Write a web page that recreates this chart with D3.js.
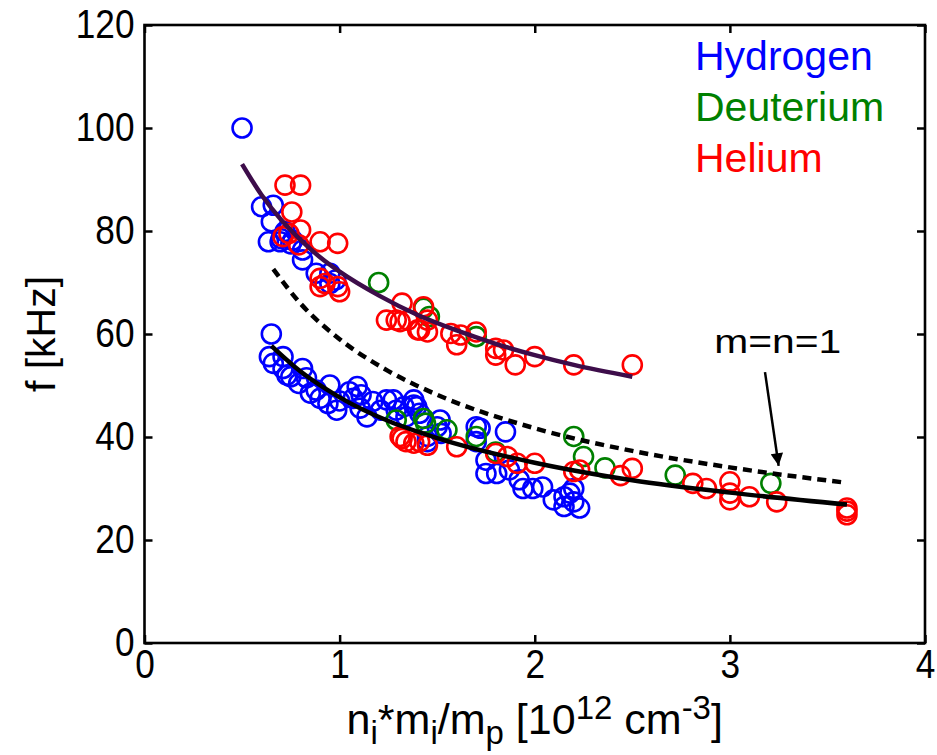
<!DOCTYPE html>
<html><head><meta charset="utf-8">
<script src="https://cdn.jsdelivr.net/npm/d3@7"></script>
<style>body{margin:0;background:#fff} text{font-family:Arial,"Liberation Sans",sans-serif}</style>
</head><body><svg id="c" width="937" height="755"></svg>
<script>
// ---------- data ----------
const xTicks = [0, 1, 2, 3, 4];
const yTicks = [0, 20, 40, 60, 80, 100, 120];
const legendNames = ["Hydrogen", "Deuterium", "Helium"];
const annotationText = "m=n=1";
const annotationAt = [2.92, 56.3];
const arrowFrom = [3.18, 52.6];
const arrowTo = [3.25, 34.4];

const hydrogen = [
 [0.50,100.0],
 [0.60,84.7],[0.66,85.0],[0.65,81.8],[0.635,77.9],[0.695,77.9],[0.72,79.9],[0.76,78.2],
 [0.81,76.3],[0.81,74.4],[0.88,71.8],[0.95,71.8],[0.95,69.8],[0.98,70.5],[0.70,78.5],[0.75,77.5],
 [0.65,60.0],[0.64,55.6],[0.66,54.3],[0.71,55.6],[0.71,53.3],[0.75,51.7],[0.81,53.3],[0.79,50.4],
 [0.83,51.5],[0.88,49.1],[0.90,47.5],[0.95,50.1],[0.94,46.5],[0.985,45.2],[1.05,48.8],[1.07,47.5],
 [1.09,49.8],[1.11,48.2],[1.105,45.6],[1.14,43.9],[1.17,46.9],[1.21,45.2],[1.24,47.2],[1.275,47.2],
 [1.29,45.2],[1.33,45.9],[1.38,47.2],[1.38,46.2],[1.395,45.9],[1.34,43.9],[1.41,44.6],[1.50,42.0],
 [1.515,43.3],[1.45,39.1],[1.45,40.1],[1.52,40.7],[1.70,42.0],[1.72,41.7],[1.70,39.1],[1.85,41.0],
 [1.75,35.5],[1.75,32.9],[1.805,32.9],[1.87,33.6],[1.92,31.7],[1.94,30.0],[1.99,30.0],[2.04,30.3],
 [2.095,27.8],[2.15,28.4],[2.18,29.1],[2.20,27.4],[2.23,26.2],[2.20,30.0],[2.15,26.5],[1.00,47.0],
 [0.73,52.0],[0.85,48.5]
];
const deuterium = [
 [1.20,70.0],[1.43,65.0],[1.46,63.4],[1.70,59.5],[1.29,43.3],[1.43,43.6],[1.44,42.7],[1.55,41.4],
 [1.70,40.1],[1.80,37.1],[2.20,40.1],[2.25,36.2],[2.36,34.0],[2.72,32.6],[3.21,31.0]
];
const helium = [
 [0.72,88.9],[0.80,88.9],[0.755,83.7],[0.80,80.2],[0.71,78.9],[0.79,77.3],[0.90,77.9],[0.99,77.6],
 [0.90,70.8],[0.90,69.2],[0.99,69.2],[0.925,69.8],[1.00,68.2],[0.74,79.5],
 [1.32,66.0],[1.24,62.7],[1.29,62.7],[1.35,62.7],[1.43,65.3],[1.45,62.7],[1.40,60.8],[1.31,62.4],
 [1.41,60.8],[1.45,60.4],[1.57,60.1],[1.60,57.9],[1.62,59.8],[1.70,60.4],[1.80,57.2],[1.84,56.9],
 [1.80,55.9],[1.90,54.0],[2.00,55.6],[2.20,54.0],[2.50,54.0],
 [1.32,39.7],[1.31,40.1],[1.34,39.1],[1.38,38.8],[1.41,39.1],[1.45,38.4],[1.60,38.1],[1.80,36.8],
 [1.86,36.2],[1.91,34.9],[2.00,34.9],[2.20,33.3],[2.23,33.6],[2.44,32.5],[2.50,33.9],[2.81,31.0],
 [2.88,30.0],[3.00,31.3],[3.00,29.1],[3.00,27.8],[3.10,28.4],[3.24,27.4],[3.60,26.2],[3.60,24.9],[3.60,25.6]
];
// fitted curves
const fitUpper = [[0.5,93.0],[0.6,87.0],[0.7,82.2],[0.8,78.3],[0.9,74.9],[1.0,72.1],[1.2,67.5],
 [1.4,63.7],[1.6,60.7],[1.8,58.1],[2.0,55.9],[2.2,54.0],[2.5,51.7]];
const fitLower = [[0.65,57.7],[0.8,52.7],[1.0,47.7],[1.25,43.1],[1.5,39.8],[2.0,35.0],[2.5,31.6],
 [3.0,29.2],[3.6,26.9]];
const fitTheory = [[0.66,72.6],[0.8,65.9],[1.0,59.0],[1.25,52.8],[1.5,48.2],[2.0,41.7],[2.5,37.3],
 [3.0,34.1],[3.6,31.1]];

const colors = {H:"#0000ff", D:"#008000", He:"#ff0000", fit:"#3d0d4a"};

// ---------- chart ----------
const svg = d3.select("#c");
const x = d3.scaleLinear().domain([0,4]).range([144.5,925]);
const y = d3.scaleLinear().domain([0,120]).range([643,25]);

function dots(data, col){
  svg.append("g").selectAll("circle").data(data).join("circle")
    .attr("cx", d=>x(d[0])).attr("cy", d=>y(d[1])).attr("r", 9.5)
    .attr("fill","none").attr("stroke", col).attr("stroke-width", 2.6);
}
dots(hydrogen, colors.H);
dots(deuterium, colors.D);
dots(helium, colors.He);

const line = d3.line().x(d=>x(d[0])).y(d=>y(d[1])).curve(d3.curveMonotoneX);
svg.append("path").attr("d", line(fitUpper)).attr("fill","none").attr("stroke",colors.fit).attr("stroke-width",4.5);
svg.append("path").attr("d", line(fitLower)).attr("fill","none").attr("stroke","#000").attr("stroke-width",4.5);
svg.append("path").attr("d", line(fitTheory)).attr("fill","none").attr("stroke","#000").attr("stroke-width",4.5).attr("stroke-dasharray","9,6");

// axes
const fs = 40, sx = 0.88;
const gB = svg.append("g").attr("transform",`translate(0,${y(0)})`)
  .call(d3.axisBottom(x).tickValues(xTicks).tickSize(-8).tickPadding(7).tickFormat(d3.format("d")));
const gL = svg.append("g").attr("transform",`translate(${x(0)},0)`)
  .call(d3.axisLeft(y).tickValues(yTicks).tickSize(-8).tickPadding(10).tickFormat(d3.format("d")));
const gT = svg.append("g").attr("transform",`translate(0,${y(120)})`)
  .call(d3.axisTop(x).tickValues(xTicks).tickSize(-8).tickFormat(""));
const gR = svg.append("g").attr("transform",`translate(${x(4)},0)`)
  .call(d3.axisRight(y).tickValues(yTicks).tickSize(-8).tickFormat(""));
[gB,gL,gT,gR].forEach(g=>{
  g.select(".domain").remove();
  g.selectAll(".tick line").attr("stroke","#000").attr("stroke-width",2.5);
  g.selectAll(".tick text").attr("font-size",fs).attr("fill","#000")
    .attr("font-family","Arial, 'Liberation Sans', sans-serif");
});
gB.selectAll(".tick text").attr("transform",`scale(${sx},1)`);
gL.selectAll(".tick text").each(function(){
  const t = d3.select(this); const xx = +t.attr("x");
  t.attr("x", xx/sx).attr("transform",`scale(${sx},1)`);
});
svg.append("rect").attr("x",x(0)).attr("y",y(120)).attr("width",x(4)-x(0)).attr("height",y(0)-y(120))
  .attr("fill","none").attr("stroke","#000").attr("stroke-width",2.6);

// axis labels
svg.append("text").attr("transform",`translate(55,${(y(0)+y(120))/2}) rotate(-90)`)
  .attr("text-anchor","middle").attr("font-size",41).text("f [kHz]");
const xl = svg.append("text").attr("x",(x(0)+x(4))/2).attr("y",734).attr("text-anchor","middle").attr("font-size",43);
const parts = [["n",0],["i",1],["*m",0],["i",1],["/m",0],["p",1],[" [10",0],["12",-1],[" cm",0],["-3",-1],["]",0]];
let cur = 0;
parts.forEach(([t,s])=>{
  const target = s===1 ? 10 : s===-1 ? -15 : 0;
  xl.append("tspan").attr("dy", target-cur).attr("font-size", s===0?43:33).text(t);
  cur = target;
});

// legend
legendNames.forEach((n,i)=>{
  svg.append("text").attr("x",695).attr("y",70+i*50.8).attr("font-size",41)
    .attr("fill",[colors.H,colors.D,colors.He][i]).text(n);
});

// annotation (horizontally stretched like the reference)
const ax = x(annotationAt[0]), ay = y(annotationAt[1]);
svg.append("text").attr("transform",`translate(${ax},${ay}) scale(1.2,1)`).attr("font-size",34)
  .text(annotationText);
svg.append("defs").append("marker").attr("id","ah").attr("viewBox","0 0 10 10").attr("refX",10).attr("refY",5)
  .attr("markerWidth",6.5).attr("markerHeight",5).attr("markerUnits","strokeWidth").attr("orient","auto")
  .append("path").attr("d","M0,0L10,5L0,10z").attr("fill","#000");
svg.append("line").attr("x1",x(arrowFrom[0])).attr("y1",y(arrowFrom[1])).attr("x2",x(arrowTo[0])).attr("y2",y(arrowTo[1]))
  .attr("stroke","#000").attr("stroke-width",2.5).attr("marker-end","url(#ah)");
</script></body></html>
